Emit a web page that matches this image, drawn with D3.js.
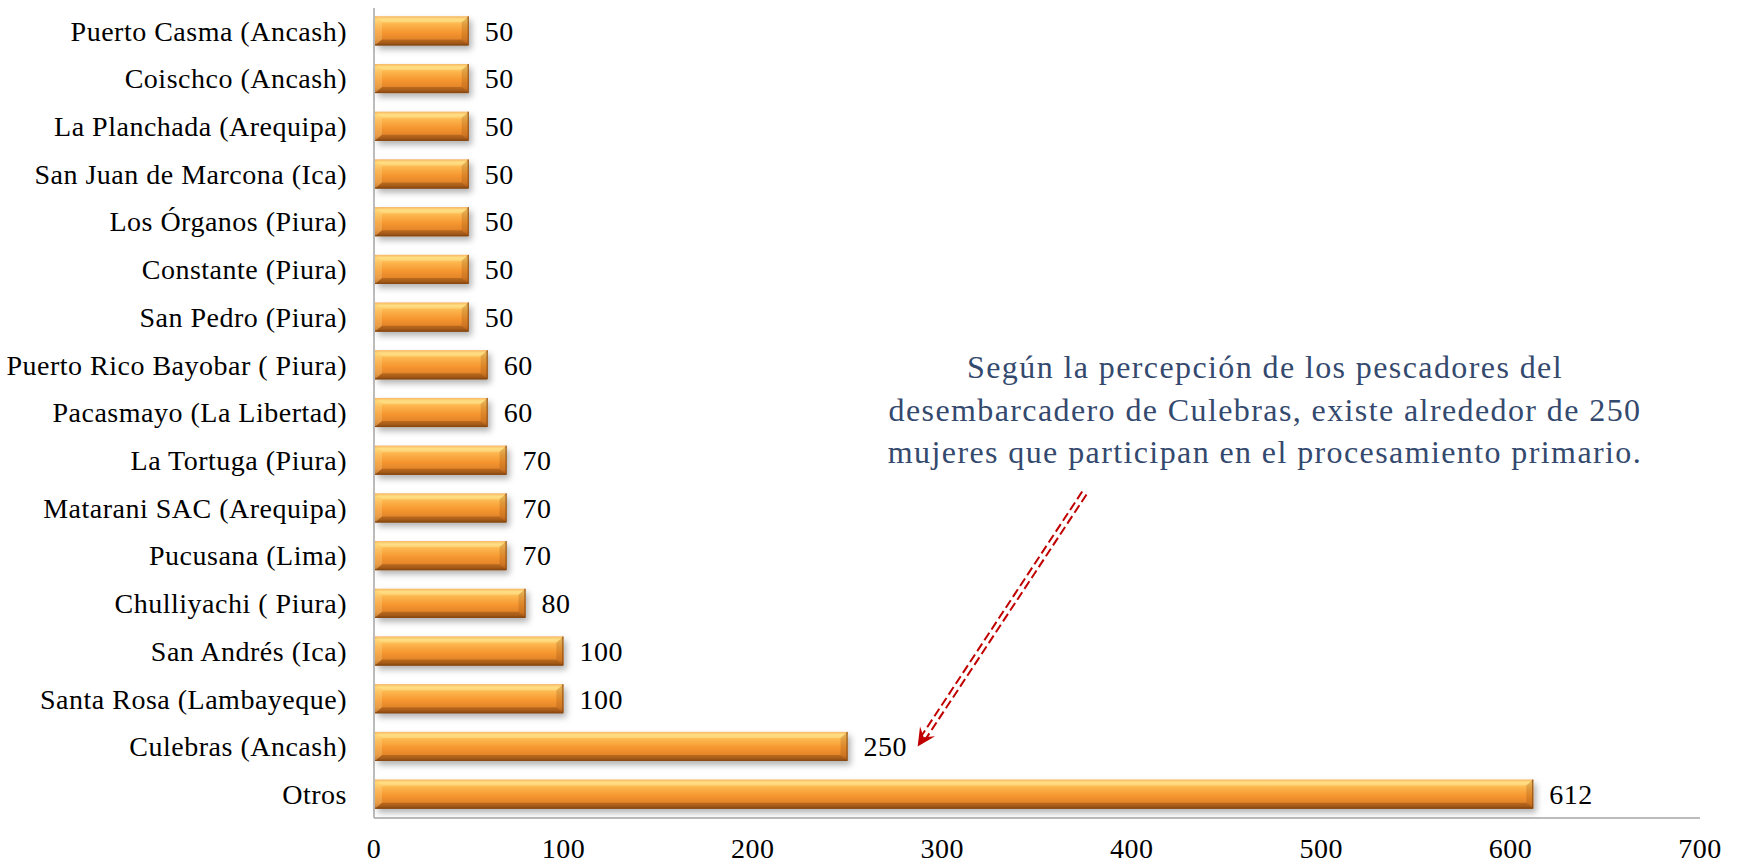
<!DOCTYPE html>
<html>
<head>
<meta charset="utf-8">
<script src="https://cdn.jsdelivr.net/npm/d3@7"></script>
<style>
  body { margin: 0; background: #fff; }
  text { font-family: "Palatino Linotype", "Book Antiqua", Palatino, "Liberation Serif", serif; }
</style>
</head>
<body>
<div id="chart"></div>
<script>
const categories = [
  'Puerto Casma (Ancash)',
  'Coischco (Ancash)',
  'La Planchada (Arequipa)',
  'San Juan de Marcona (Ica)',
  'Los Órganos (Piura)',
  'Constante (Piura)',
  'San Pedro (Piura)',
  'Puerto Rico Bayobar ( Piura)',
  'Pacasmayo (La Libertad)',
  'La Tortuga (Piura)',
  'Matarani SAC (Arequipa)',
  'Pucusana (Lima)',
  'Chulliyachi ( Piura)',
  'San Andrés (Ica)',
  'Santa Rosa (Lambayeque)',
  'Culebras (Ancash)',
  'Otros'
];

const values = [50, 50, 50, 50, 50, 50, 50, 60, 60, 70, 70, 70, 80, 100, 100, 250, 612];

const xTicks = [0, 100, 200, 300, 400, 500, 600, 700];

const noteLines = [
  'Según la percepción de los pescadores del',
  'desembarcadero de Culebras, existe alrededor de 250',
  'mujeres que participan en el procesamiento primario.'
];

const data = categories.map((c, i) => ({ name: c, value: values[i] }));

const width = 1738, height = 865;
const margin = { top: 7, right: 38, bottom: 47, left: 374 };

const svg = d3.select('#chart').append('svg')
  .attr('width', width)
  .attr('height', height);

const defs = svg.append('defs');

// bar face gradient (orange, glossy)
const grad = defs.append('linearGradient')
  .attr('id', 'barGrad')
  .attr('x1', 0).attr('y1', 0).attr('x2', 0).attr('y2', 1);
[
  [0, '#F3963A'],
  [0.1, '#FFD46C'],
  [0.28, '#FCB44C'],
  [0.55, '#F69730'],
  [0.8, '#E3842A'],
  [0.92, '#C46B1F'],
  [1, '#8C4D15']
].forEach(([o, c]) => grad.append('stop').attr('offset', o).attr('stop-color', c));

const shadow = defs.append('filter')
  .attr('id', 'shadow')
  .attr('x', '-5%').attr('y', '-30%').attr('width', '115%').attr('height', '180%');
shadow.append('feDropShadow')
  .attr('dx', 3).attr('dy', 4)
  .attr('stdDeviation', 3)
  .attr('flood-color', '#000')
  .attr('flood-opacity', 0.3);

const x = d3.scaleLinear()
  .domain([0, 700])
  .range([margin.left, width - margin.right]);

const y = d3.scaleBand()
  .domain(categories)
  .range([margin.top, height - margin.bottom])
  .paddingInner(0.39)
  .paddingOuter(0.195);

// axes lines
svg.append('line')
  .attr('x1', x(0)).attr('x2', x(0))
  .attr('y1', margin.top + 1).attr('y2', height - margin.bottom)
  .attr('stroke', '#A6A6A6').attr('stroke-width', 1.5);

svg.append('line')
  .attr('x1', x(0)).attr('x2', x(700))
  .attr('y1', height - margin.bottom).attr('y2', height - margin.bottom)
  .attr('stroke', '#A6A6A6').attr('stroke-width', 1.5);

// x tick labels
svg.append('g')
  .selectAll('text')
  .data(xTicks)
  .join('text')
  .attr('x', d => x(d))
  .attr('y', height - 7)
  .attr('text-anchor', 'middle')
  .attr('font-size', 28)
  .attr('letter-spacing', 0.5)
  .attr('fill', '#000')
  .text(d => d);

// category labels
svg.append('g')
  .selectAll('text')
  .data(data)
  .join('text')
  .attr('x', x(0) - 27)
  .attr('y', d => y(d.name) + y.bandwidth() / 2)
  .attr('dy', '0.35em')
  .attr('text-anchor', 'end')
  .attr('font-size', 28)
  .attr('letter-spacing', 0.5)
  .attr('fill', '#000')
  .text(d => d.name);

// bars
const bevel = 7;
const bars = svg.append('g')
  .selectAll('g')
  .data(data)
  .join('g')
  .attr('class', 'bar');

bars.append('rect')
  .attr('x', x(0) + 1)
  .attr('y', d => y(d.name))
  .attr('width', d => x(d.value) - x(0) - 1)
  .attr('height', y.bandwidth())
  .attr('fill', 'url(#barGrad)')
  .attr('filter', 'url(#shadow)');

const facets = [
  { key: 'top', fill: '#FFF3B0', op: 0.35 },
  { key: 'bottom', fill: '#5A2E08', op: 0.3 },
  { key: 'left', fill: '#FFE9A0', op: 0.25 },
  { key: 'right', fill: '#7A3E0A', op: 0.2 }
];

facets.forEach(f => {
  bars.append('polygon')
    .attr('fill', f.fill)
    .attr('fill-opacity', f.op)
    .attr('points', d => {
      const x0 = x(0) + 1, x1 = x(d.value);
      const y0 = y(d.name), y1 = y0 + y.bandwidth();
      const b = bevel, bv = 6;
      let pts;
      if (f.key === 'top') pts = [[x0, y0], [x1, y0], [x1 - b, y0 + bv], [x0 + b, y0 + bv]];
      if (f.key === 'bottom') pts = [[x0, y1], [x1, y1], [x1 - b, y1 - bv], [x0 + b, y1 - bv]];
      if (f.key === 'left') pts = [[x0, y0], [x0 + b, y0 + bv], [x0 + b, y1 - bv], [x0, y1]];
      if (f.key === 'right') pts = [[x1, y0], [x1 - b, y0 + bv], [x1 - b, y1 - bv], [x1, y1]];
      return pts.map(p => p.join(',')).join(' ');
    });
});

bars.append('path')
  .attr('fill', 'none')
  .attr('stroke', '#8A4A12')
  .attr('stroke-width', 1)
  .attr('d', d => {
    const x0 = x(0) + 1, x1 = x(d.value);
    const y0 = y(d.name), y1 = y0 + y.bandwidth();
    return `M${x0},${y1 - 0.5}H${x1 - 0.5}V${y0}`;
  });

// value labels
svg.append('g')
  .selectAll('text')
  .data(data)
  .join('text')
  .attr('x', d => x(d.value) + 16)
  .attr('y', d => y(d.name) + y.bandwidth() / 2)
  .attr('dy', '0.35em')
  .attr('font-size', 28)
  .attr('letter-spacing', 0.5)
  .attr('fill', '#000')
  .text(d => d.value);

// annotation
const note = svg.append('text')
  .attr('x', 1265)
  .attr('y', 378)
  .attr('text-anchor', 'middle')
  .attr('font-size', 32)
  .attr('letter-spacing', 1.4)
  .attr('fill', '#34496E');

note.selectAll('tspan')
  .data(noteLines)
  .join('tspan')
  .attr('x', 1265)
  .attr('dy', (d, i) => i === 0 ? 0 : 42.5)
  .text(d => d);

// double dashed arrow pointing to Culebras
const tail = [x(375), 493];
const tip = [x(287), y('Culebras (Ancash)') + y.bandwidth() / 2];
const dx = tip[0] - tail[0], dy = tip[1] - tail[1];
const len = Math.hypot(dx, dy);
const ux = dx / len, uy = dy / len;
const nx = -uy, ny = ux;
const arrow = svg.append('g').attr('class', 'arrow');
const lineEnd = [tip[0] - ux * 12, tip[1] - uy * 12];

[-2.6, 2.6].forEach(off => {
  arrow.append('line')
    .attr('x1', tail[0] + nx * off).attr('y1', tail[1] + ny * off)
    .attr('x2', lineEnd[0] + nx * off).attr('y2', lineEnd[1] + ny * off)
    .attr('stroke', '#C00000')
    .attr('stroke-width', 2)
    .attr('stroke-dasharray', '9 4');
});

const head = [
  tip,
  [tip[0] - ux * 18 + nx * 9, tip[1] - uy * 18 + ny * 9],
  [tip[0] - ux * 11, tip[1] - uy * 11],
  [tip[0] - ux * 18 - nx * 9, tip[1] - uy * 18 - ny * 9]
];
arrow.append('polygon')
  .attr('points', head.map(p => p.join(',')).join(' '))
  .attr('fill', '#C00000');
</script>
</body>
</html>
